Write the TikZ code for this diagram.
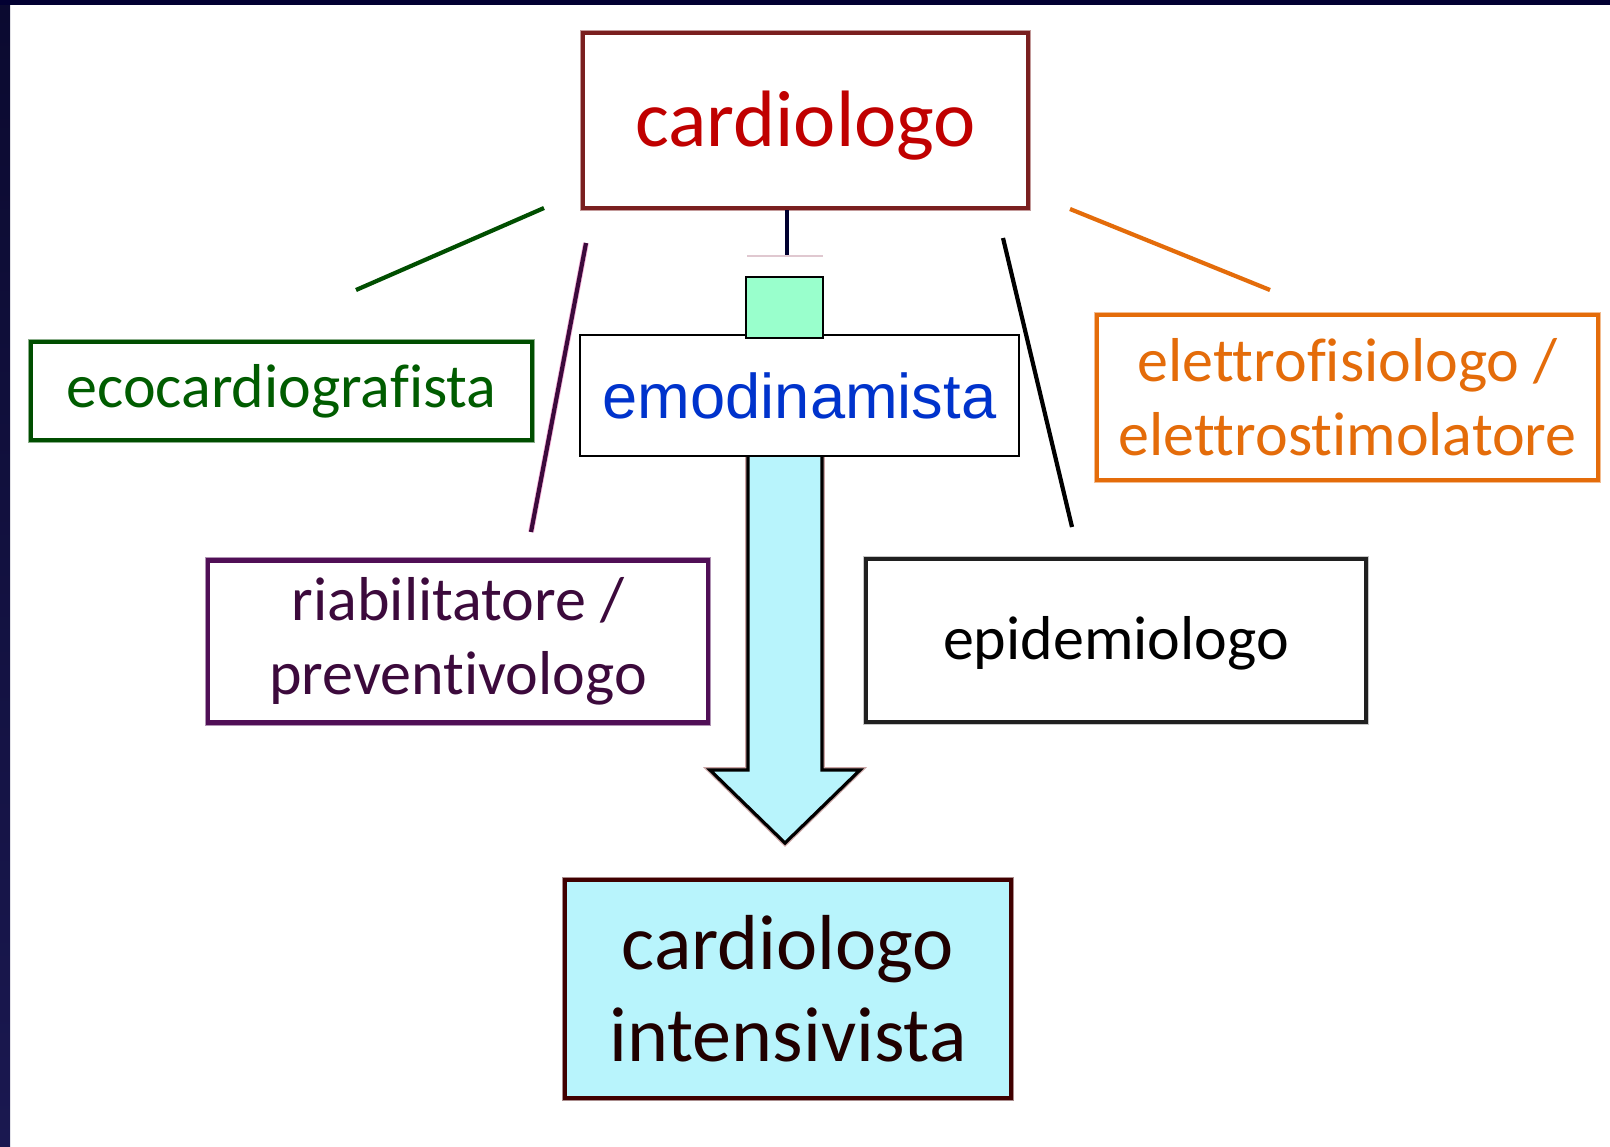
\documentclass[tikz,border=0pt]{standalone}
\usepackage{fontspec}
\setmainfont{Carlito}[Ligatures={NoCommon}]
\newfontfamily\arialf{Liberation Sans}
\definecolor{navytop}{HTML}{020032}
\definecolor{navyA}{HTML}{0B0A30}
\definecolor{navyB}{HTML}{1A1850}
\definecolor{cardred}{HTML}{C00000}
\definecolor{cardborder}{HTML}{7A1F1F}
\definecolor{ecogreen}{HTML}{005C00}
\definecolor{ecoborder}{HTML}{004E00}
\definecolor{elorange}{HTML}{E46C0A}
\definecolor{riapurple}{HTML}{3C0A3C}
\definecolor{riaborder}{HTML}{500F56}
\definecolor{epiborder}{HTML}{202020}
\definecolor{intdark}{HTML}{200000}
\definecolor{intborder}{HTML}{400000}
\definecolor{intfill}{HTML}{B8F4FC}
\definecolor{emoblue}{HTML}{0033CC}
\definecolor{sqgreen}{HTML}{99FFCC}
\definecolor{stemcol}{HTML}{000030}
\definecolor{faintline}{HTML}{E0C8D0}
\begin{document}
\begin{tikzpicture}[x=0.5pt,y=-0.5pt,
  box/.style={draw, line width=2.3pt, inner sep=0pt, align=center, fill=white,
    preaction={draw=#1!45, line width=3.3pt}},
  box/.default=black,
  smallfont/.style={font=\fontsize{31}{37}\selectfont},
  link/.style={line width=2.1pt, line cap=butt}
]
\useasboundingbox (0,0) rectangle (1610,1146);
\fill[white] (0,0) rectangle (1610,1146);
\fill[navytop] (0,0) rectangle (1610,5);
\shade[top color=navyA, bottom color=navyB] (0,5) rectangle (10,1146);

% boxes
\node[box=cardborder, draw=cardborder, text=cardred, minimum width=222.5pt, minimum height=87.5pt,
  font=\fontsize{40}{48}\selectfont] (card) at (805.5,120.5) {\raisebox{-2.5pt}[\height][\depth]{cardiologo}};
\node[box=ecoborder, draw=ecoborder, text=ecogreen, minimum width=250.5pt, minimum height=49pt,
  smallfont] (eco) at (281.5,391) {ecocardiografista};
\node[box=elorange, draw=elorange, text=elorange, minimum width=250.5pt, minimum height=82.5pt,
  smallfont] (elet) at (1347.5,397.5) {elettrofisiologo /\\elettrostimolatore};
\node[box=riaborder, draw=riaborder, text=riapurple, minimum width=250pt, minimum height=81pt,
  smallfont] (ria) at (458,641.5) {riabilitatore /\\preventivologo};
\node[box=gray, draw=epiborder, text=black, minimum width=250pt, minimum height=81.5pt,
  smallfont] (epi) at (1116,640.5) {\raisebox{-1.5pt}[\height][\depth]{epidemiologo}};
\node[box=intborder, draw=intborder, fill=intfill, text=intdark, minimum width=223pt, minimum height=109pt,
  font=\fontsize{39}{46}\selectfont] (int) at (788,989) {cardiologo\\intensivista};

% big arrow
\coordinate (shaftL) at (748,450);
\coordinate (shaftR) at (822,450);
\coordinate (tip) at (785,843);
\filldraw[fill=intfill, draw=black, line width=1.6pt, line join=miter,
  preaction={draw=cardborder!40, line width=2.8pt}]
  (shaftL) -- (748,770) -- (710,770) -- (tip) -- (860,770) -- (822,770) -- (shaftR);

\node[draw=black, line width=0.9pt, fill=white, inner sep=0pt, minimum width=219.5pt, minimum height=60.5pt,
  text=emoblue, font=\arialf\fontsize{31.6}{38}\selectfont] (emo) at (799.5,395.5) {emodinamista};
\node[draw=black, line width=0.9pt, fill=sqgreen, inner sep=0pt, minimum width=38.5pt, minimum height=30.5pt] (sq) at (784.5,307.5) {};

% stem under cardiologo
\coordinate (stemend) at (787,256);
\draw[stemcol, line width=1.8pt] (card.south -| stemend) -- (stemend);
\coordinate (fL) at (747,256);
\coordinate (fR) at (823,256);
\draw[faintline, line width=0.6pt] (fL) -- (fR);

% connector lines
\coordinate (g1) at (356,290); \coordinate (g2) at (544,208);
\draw[link, ecoborder] (g1) -- (g2);
\coordinate (p1) at (586,243); \coordinate (p2) at (531,532);
\draw[link, riapurple, preaction={draw=magenta!30, line width=2.9pt}] (p1) -- (p2);
\coordinate (b1) at (1003,238); \coordinate (b2) at (1072,527);
\draw[link, black] (b1) -- (b2);
\coordinate (o1) at (1070,209); \coordinate (o2) at (1270,290);
\draw[link, elorange] (o1) -- (o2);
\end{tikzpicture}
\end{document}
